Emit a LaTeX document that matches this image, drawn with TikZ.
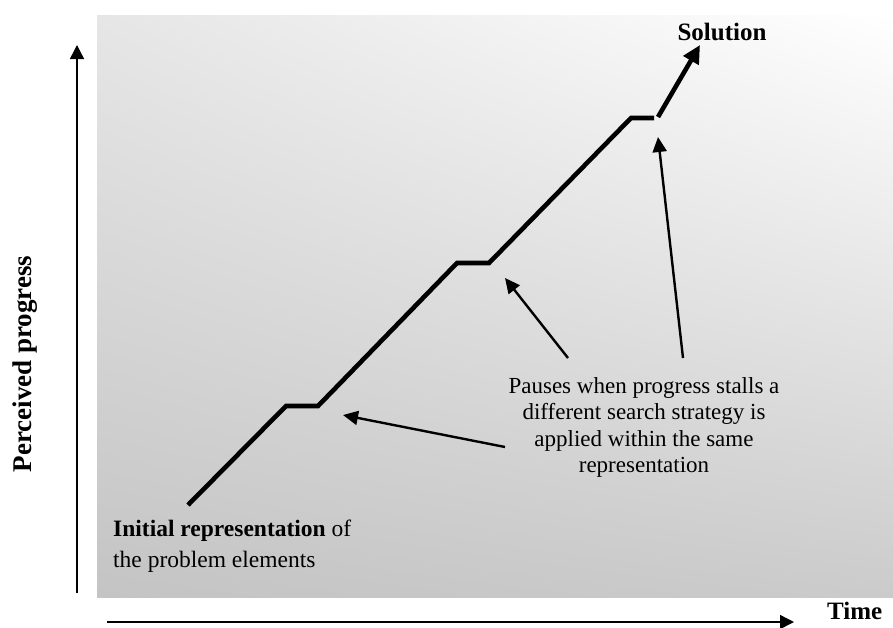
\documentclass[tikz,border=0pt]{standalone}
\usepackage{fontspec}
\setmainfont{Liberation Serif}
\usetikzlibrary{arrows.meta,shadings}

\definecolor{panelUL}{HTML}{E6E6E6}
\definecolor{panelUR}{HTML}{FFFFFF}
\definecolor{panelLL}{HTML}{C4C4C4}
\definecolor{panelLR}{HTML}{CBCBCB}

\tikzset{
  axisline/.style={line width=1.4pt, -{Triangle[length=14pt,width=14pt]}},
  stairline/.style={line width=4.6pt, line join=miter},
  headline/.style={line width=4.6pt, -{Triangle[length=18pt,width=17pt]}},
  pointer/.style={line width=2.4pt, -{Triangle[length=15pt,width=14pt]}},
  bodytext/.style={font=\fontsize{23}{26.5}\selectfont, inner sep=0pt},
  boldtext/.style={font=\fontsize{25}{29}\selectfont\bfseries, inner sep=0pt},
}

\begin{document}
\begin{tikzpicture}[x=1pt, y=-1pt]
  \useasboundingbox (0,0) rectangle (893,627);

  % shaded panel
  \shade[upper left=panelUL, upper right=panelUR,
         lower left=panelLL, lower right=panelLR]
    (97,15) rectangle (893,597);

  % axes
  \coordinate (yaxis0) at (77,593);
  \coordinate (yaxis1) at (77,45);
  \coordinate (xaxis0) at (107,622);
  \coordinate (xaxis1) at (794,622);
  \draw[axisline] (yaxis0) -- (yaxis1);
  \draw[axisline] (xaxis0) -- (xaxis1);

  \node[boldtext, font=\fontsize{27}{31}\selectfont\bfseries, rotate=90]
    (ylabel) at (25,364) {Perceived progress};
  \node[boldtext, text depth=0pt, anchor=base west] (xlabel) at (827,619) {Time};

  % staircase of progress
  \coordinate (s0) at (188,505);
  \coordinate (s1) at (286,406);
  \coordinate (s2) at (318,406);
  \coordinate (s3) at (457,263);
  \coordinate (s4) at (489,263);
  \coordinate (s5) at (631,118);
  \coordinate (s6) at (654,118);
  \coordinate (s7) at (658,117);
  \coordinate (s8) at (700,45);
  \draw[stairline] (s0) -- (s1) -- (s2) -- (s3) -- (s4) -- (s5) -- (s6);
  \draw[headline] (s7) -- (s8);

  \node[boldtext, anchor=base] (solution) at (722,40) {Solution};

  % anchor=base of a multi-line node sits on its last line
  \node[bodytext, font=\fontsize{23.5}{31}\selectfont, anchor=base west, align=left]
    (initial) at (113,567)
    {\textbf{Initial representation} of\\the problem elements};

  \node[bodytext, anchor=base, align=center] (pauses) at (644,472.5)
    {Pauses when progress stalls a\\different search strategy is\\applied within the same\\representation};

  % pointers to the pauses
  \coordinate (p1a) at (505,447);
  \coordinate (p1b) at (343,415);
  \coordinate (p2a) at (568,358);
  \coordinate (p2b) at (505,278);
  \coordinate (p3a) at (683,358);
  \coordinate (p3b) at (658,137);
  \draw[pointer] (p1a) -- (p1b);
  \draw[pointer] (p2a) -- (p2b);
  \draw[pointer] (p3a) -- (p3b);
\end{tikzpicture}
\end{document}
